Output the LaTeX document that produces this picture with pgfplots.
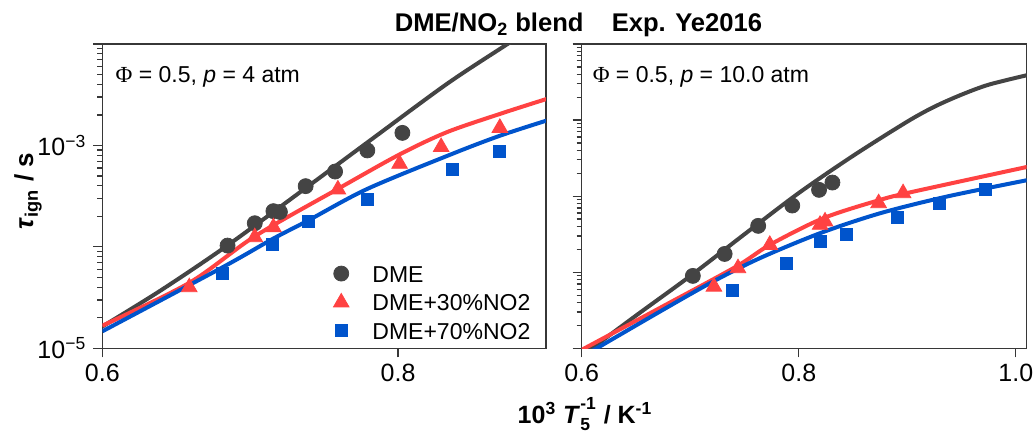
\documentclass[border=0pt]{standalone}
\usepackage{pgfplots}
\pgfplotsset{compat=1.18}
\usepackage{fontspec}
\setmainfont{Liberation Sans}
\newfontfamily\phifont{Liberation Serif}

\definecolor{cdme}{RGB}{68,68,68}
\definecolor{cno30}{RGB}{255,66,66}
\definecolor{cno70}{RGB}{0,84,204}
\definecolor{axgray}{RGB}{55,55,55}

\pgfplotsset{
  panel/.style={
    scale only axis, height=152.15pt,
    tick pos=left, tick align=outside,
    major tick length=4.5pt, minor tick length=2.5pt,
    every tick/.style={axgray, line width=0.6pt},
    axis line style={axgray, line width=0.75pt},
    tick label style={font=\fontsize{12.5}{14}\selectfont},
    xticklabel style={/pgf/number format/fixed, /pgf/number format/fixed zerofill,
      /pgf/number format/precision=1, /pgf/number format/assume math mode=true},
    xmin=0.6,
  },
  model/.style={line width=2pt, smooth, no marks, forget plot},
}

\begin{document}
\begin{tikzpicture}
\useasboundingbox (0,0) rectangle (517.5pt,220pt);

% ---- left panel: 4 atm
\begin{semilogyaxis}[panel, at={(51.15pt,45.85pt)}, anchor=south west, width=221.85pt,
  xmax=0.9, ymin=1e-5, ymax=1e-2,
  xtick={0.6,0.8},
  ytick={1e-5,1e-4,1e-3,1e-2},
  yticklabels={10\textsuperscript{−5},,10\textsuperscript{−3},},
  minor ytick={2e-5,3e-5,4e-5,5e-5,6e-5,7e-5,8e-5,9e-5,2e-4,3e-4,4e-4,5e-4,6e-4,7e-4,8e-4,9e-4,2e-3,3e-3,4e-3,5e-3,6e-3,7e-3,8e-3,9e-3},
  legend style={draw=none, fill=none, at={(0.521,0.2735)}, anchor=north west,
    inner sep=0pt, outer sep=0pt, font=\fontsize{11.5}{13}\selectfont,
    row sep=5.7pt, column sep=11.7pt,
    nodes={inner sep=0pt, text height=8.5pt, text depth=0pt}},
  legend cell align=left,
]
\addplot[model, cdme] coordinates {(0.600,1.64e-5) (0.6395,3.72e-5) (0.6847,1.035e-4) (0.7375,3.80e-4) (0.7792,1.07e-3) (0.8332,4.06e-3) (0.8743,1.007e-2) (0.900,1.78e-2)};
\addplot[model, cno30] coordinates {(0.600,1.67e-5) (0.6588,4.42e-5) (0.7031,1.27e-4) (0.7593,3.73e-4) (0.8010,8.15e-4) (0.8332,1.355e-3) (0.8695,2.06e-3) (0.9010,2.89e-3)};
\addplot[model, cno70] coordinates {(0.600,1.47e-5) (0.6814,6.30e-5) (0.7153,1.20e-4) (0.7392,1.82e-4) (0.7792,3.73e-4) (0.8368,8.28e-4) (0.8695,1.256e-3) (0.9010,1.77e-3)};
\addplot[only marks, mark=*, mark size=3.75pt, color=cdme] coordinates {(0.6847,1.03e-4) (0.7031,1.71e-4) (0.7157,2.25e-4) (0.7201,2.21e-4) (0.7375,3.97e-4) (0.7574,5.53e-4) (0.7792,8.93e-4) (0.8029,1.33e-3)};
\addlegendentry{DME}
\addplot[only marks, mark=triangle*, mark size=4.5pt, color=cno30] coordinates {(0.6588,4.00e-5) (0.7031,1.245e-4) (0.7157,1.56e-4) (0.7593,3.68e-4) (0.8010,6.59e-4) (0.8291,9.64e-4) (0.8688,1.49e-3)};
\addlegendentry{DME+30\%NO2}
\addplot[only marks, mark=square*, mark size=3pt, color=cno70] coordinates {(0.6814,5.42e-5) (0.7152,1.05e-4) (0.7392,1.79e-4) (0.7792,2.91e-4) (0.8368,5.75e-4) (0.8683,8.79e-4)};
\addlegendentry{DME+70\%NO2}
\node[anchor=base west, inner sep=0pt, font=\fontsize{11.5}{13}\selectfont] at (rel axis cs:0.029,0.872) {{\phifont Φ} = 0.5, \textit{p} = 4 atm};
\end{semilogyaxis}

% ---- right panel: 10 atm
\begin{semilogyaxis}[panel, at={(290.85pt,45.85pt)}, anchor=south west, width=222.5pt,
  xmax=1.01, ymin=1e-6, ymax=1e-2,
  xtick={0.6,0.8,1.0},
  ytick={1e-6,1e-5,1e-4,1e-3,1e-2},
  yticklabels={},
  minor ytick={2e-6,3e-6,4e-6,5e-6,6e-6,7e-6,8e-6,9e-6,2e-5,3e-5,4e-5,5e-5,6e-5,7e-5,8e-5,9e-5,2e-4,3e-4,4e-4,5e-4,6e-4,7e-4,8e-4,9e-4,2e-3,3e-3,4e-3,5e-3,6e-3,7e-3,8e-3,9e-3},
]
\addplot[model, cdme] coordinates {(0.600,7.94e-7) (0.650,2.69e-6) (0.700,8.91e-6) (0.750,3.16e-5) (0.800,1.10e-4) (0.850,3.39e-4) (0.900,9.55e-4) (0.925,1.50e-3) (0.950,2.16e-3) (0.975,2.92e-3) (1.0102,3.89e-3)};
\addplot[model, cno30] coordinates {(0.600,9.55e-7) (0.6746,3.55e-6) (0.7425,1.19e-5) (0.7733,2.29e-5) (0.8227,5.14e-5) (0.8751,8.95e-5) (0.9060,1.15e-4) (1.0102,2.42e-4)};
\addplot[model, cno70] coordinates {(0.610,9.3e-7) (0.6746,3.19e-6) (0.7209,7.53e-6) (0.7641,1.53e-5) (0.8196,3.26e-5) (0.8751,5.97e-5) (0.9368,9.91e-5) (1.0102,1.62e-4)};
\addplot[only marks, mark=*, mark size=3.75pt, color=cdme] coordinates {(0.7024,8.95e-6) (0.7317,1.74e-5) (0.7626,4.07e-5) (0.7940,7.53e-5) (0.8187,1.21e-4) (0.8310,1.51e-4)};
\addplot[only marks, mark=triangle*, mark size=4.5pt, color=cno30] coordinates {(0.7218,6.47e-6) (0.7440,1.13e-5) (0.7733,2.29e-5) (0.8196,4.20e-5) (0.8242,4.65e-5) (0.8736,8.09e-5) (0.8961,1.094e-4)};
\addplot[only marks, mark=square*, mark size=3pt, color=cno70] coordinates {(0.7385,5.74e-6) (0.7888,1.31e-5) (0.8202,2.54e-5) (0.8443,3.10e-5) (0.8906,5.30e-5) (0.9297,7.93e-5) (0.9723,1.236e-4)};
\node[anchor=base west, inner sep=0pt, font=\fontsize{11.5}{13}\selectfont] at (rel axis cs:0.024,0.875) {{\phifont Φ} = 0.5, \textit{p} = 10.0 atm};
\end{semilogyaxis}

% ---- titles and axis labels
\node[anchor=base, inner sep=0pt, font=\bfseries\fontsize{12.8}{14}\selectfont] at (289.25pt,204.15pt)
  {DME/NO\textsubscript{2} blend\hspace{1.1em}Exp. Ye2016};
\node[anchor=base, inner sep=0pt, font=\bfseries\fontsize{12.5}{14}\selectfont] at (292.5pt,8.5pt)
  {10\textsuperscript{3} \textit{T}\makebox[0pt][l]{\raisebox{-0.25ex}{\textsubscript{5}}}\raisebox{0.35ex}{\textsuperscript{-1}} / K\textsuperscript{-1}};
\node[rotate=90, inner sep=0pt, font=\bfseries\fontsize{13}{15}\selectfont] at (14pt,124.5pt)
  {\textit{τ}\textsubscript{ign} / s};
\end{tikzpicture}
\end{document}
